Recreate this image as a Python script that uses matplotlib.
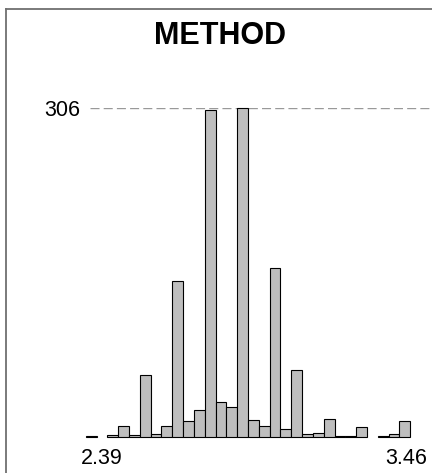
import matplotlib
matplotlib.use("Agg")
import matplotlib.pyplot as plt
import numpy as np
from matplotlib.lines import Line2D

plt.rcParams['font.family'] = ['Liberation Sans', 'DejaVu Sans']

# histogram counts per bin (0 = empty bin, nothing drawn)
counts = [1, 0, 2, 10, 2, 58, 3, 10, 145, 15,
          25, 304, 33, 28, 306, 16, 10, 157, 7, 62,
          3, 4, 17, 1, 1, 9, 0, 1, 3, 15]
bin_start = 2.333
bin_width = 0.038
x_ticks = [2.39, 3.46]
x_labels = ["2.39", "3.46"]
y_max = 306
title = "METHOD"

W, H, DPI = 432, 473, 100
fig = plt.figure(figsize=(W / DPI, H / DPI), dpi=DPI)

# pixel geometry of the panel
px_left, px_right = 90, 432
px_base, px_top = 437, 108
px_per_unit = bin_width / 10.82
x0 = bin_start + (px_left - 85.7) * px_per_unit
x1 = bin_start + (px_right - 85.7) * px_per_unit

ax = fig.add_axes([px_left / W, (H - px_base) / H,
                   (px_right - px_left) / W, (px_base - px_top) / H])
ax.set_xlim(x0, x1)
ax.set_ylim(0, y_max)

counts = np.array(counts)
edges = bin_start + bin_width * np.arange(len(counts))
mask = counts > 0
ax.bar(edges[mask], counts[mask], width=bin_width, align='edge',
       color='#bebebe', edgecolor='black', linewidth=0.8, clip_on=False,
       zorder=3)

ax.axhline(y_max, color='#999999', linewidth=1.0, dashes=(6.5, 3), zorder=1)

for s in ax.spines.values():
    s.set_visible(False)
ax.set_xticks(x_ticks)
ax.set_xticklabels(x_labels, fontsize=15.5)
ax.set_yticks([y_max])
ax.set_yticklabels([str(y_max)], fontsize=15.5)
ax.tick_params(axis='both', length=0)
ax.tick_params(axis='x', pad=8)
ax.tick_params(axis='y', pad=7)

fig.text(220 / W, 1 - 36 / H, title, fontsize=22, fontweight='bold',
         ha='center', va='center')

# outer frame (cropped panel border)
fig.add_artist(Line2D([6 / W, 6 / W], [0, 1 - 9 / H], transform=fig.transFigure,
                      color='#707070', linewidth=1.3))
fig.add_artist(Line2D([6 / W, 1], [1 - 9 / H, 1 - 9 / H], transform=fig.transFigure,
                      color='#707070', linewidth=1.3))

fig.savefig("out.png", dpi=DPI)
